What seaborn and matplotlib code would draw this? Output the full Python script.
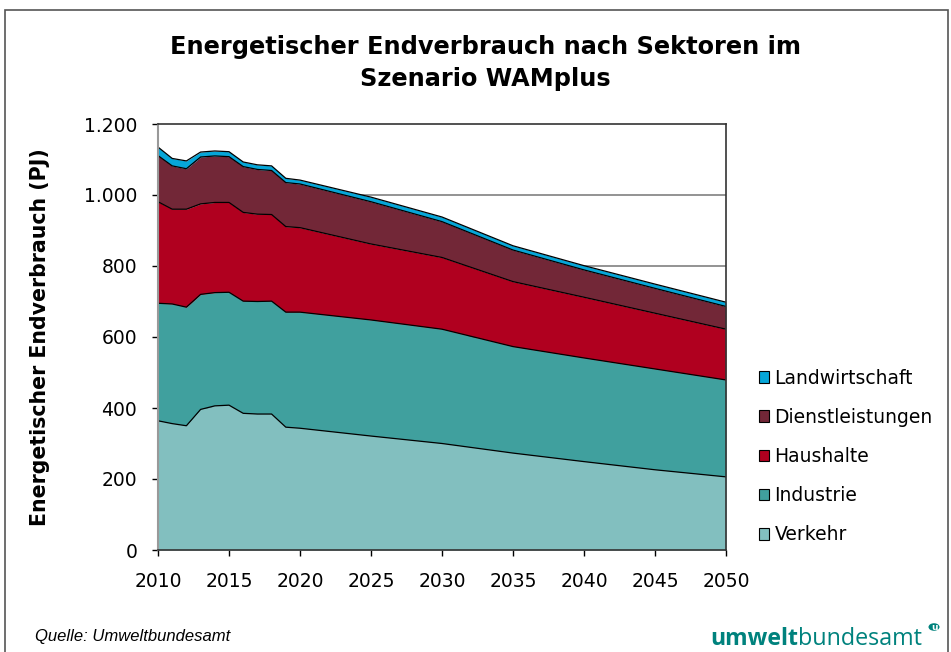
import numpy as np
import pandas as pd
import seaborn as sns
import matplotlib.pyplot as plt
from matplotlib.patches import Patch, Rectangle, Circle

# Werte (PJ)
jahre = [2010, 2011, 2012, 2013, 2014, 2015, 2016, 2017, 2018, 2019, 2020,
         2025, 2030, 2035, 2040, 2045, 2050]
verkehr = [364, 356, 350, 396, 406, 408, 385, 383, 383, 346, 343,
           321, 300, 273, 249, 226, 206]
industrie = [331, 337, 334, 324, 319, 318, 316, 317, 318, 324, 327,
             327, 322, 300, 292, 284, 273]
haushalte = [286, 267, 276, 255, 254, 253, 250, 246, 244, 241, 238,
             214, 202, 183, 171, 157, 143]
dienstleistungen = [130, 122, 114, 132, 131, 129, 129, 126, 124, 124, 123,
                    119, 101, 89, 77, 70, 64]
landwirtschaft = [24, 21, 22, 14, 14, 14, 13, 13, 13, 12, 11,
                  13, 13, 12, 12, 12, 12]

sektoren = ["Verkehr", "Industrie", "Haushalte", "Dienstleistungen", "Landwirtschaft"]
farben = ["#82bfbf", "#40a09e", "#b0001f", "#722737", "#06a6d8"]
y_labels = ["0", "200", "400", "600", "800", "1.000", "1.200"]

df = pd.DataFrame({"Jahr": jahre, "Verkehr": verkehr, "Industrie": industrie,
                   "Haushalte": haushalte, "Dienstleistungen": dienstleistungen,
                   "Landwirtschaft": landwirtschaft})
kum = df[sektoren].cumsum(axis=1)
kum["Jahr"] = df["Jahr"]
kum_long = kum.melt(id_vars="Jahr", var_name="Sektor", value_name="Summe")

sns.set_theme(style="white")
plt.rcParams["font.family"] = ["DejaVu Sans"]
for k in ["text.color", "axes.labelcolor", "xtick.color", "ytick.color"]:
    plt.rcParams[k] = "black"

fig = plt.figure(figsize=(9.51, 6.52), dpi=100)
ax = fig.add_axes([158 / 951, 1 - 550 / 652, (726 - 158) / 951, (550 - 124) / 652])

# Gitterlinien hinter den Flächen
for yv in range(200, 1200, 200):
    ax.axhline(yv, color="#808080", lw=1.2, zorder=0)

ax.stackplot(df["Jahr"], [df[s] for s in sektoren], colors=farben, lw=0, zorder=1)
sns.lineplot(data=kum_long, x="Jahr", y="Summe", units="Sektor", estimator=None,
             color="black", lw=0.9, legend=False, ax=ax, zorder=2)

ax.set_xlim(2010, 2050)
ax.set_ylim(0, 1200)
ax.set_xticks(range(2010, 2051, 5))
ax.set_yticks(range(0, 1201, 200))
ax.set_yticklabels(y_labels)
ax.tick_params(axis="both", labelsize=13.5, length=4, width=1, color="black",
               direction="out", bottom=True, left=True, pad=11)
ax.tick_params(axis="x", pad=12)
ax.set_xlabel("")
ax.set_ylabel("Energetischer Endverbrauch (PJ)", fontsize=14.8, fontweight="bold",
              labelpad=24)

for side in ["top", "right", "bottom"]:
    ax.spines[side].set_color("#333333")
    ax.spines[side].set_linewidth(1.2)
ax.spines["left"].set_color("#999999")
ax.spines["left"].set_linewidth(1.5)

fig.text(485 / 951, 1 - 63 / 652, "Energetischer Endverbrauch nach Sektoren im\nSzenario WAMplus",
         fontsize=17.3, fontweight="bold", ha="center", va="center", linespacing=1.4)

handles = [Patch(facecolor=c, edgecolor="black", lw=0.8, label=s)
           for s, c in zip(sektoren, farben)][::-1]
fig.legend(handles=handles, loc="upper left", bbox_to_anchor=(751 / 951, 1 - 361 / 652),
           frameon=False, fontsize=13.5, handlelength=0.55, handleheight=0.55,
           handletextpad=0.3, labelspacing=1.08, borderaxespad=0)

fig.text(35 / 951, 1 - 636 / 652, "Quelle: Umweltbundesamt", fontsize=12,
         style="italic", va="center", ha="left", family=["Liberation Sans"])

# Logo
t_um = fig.text(710 / 951, 1 - 645 / 652, "umwelt", fontsize=16.6, fontweight="bold",
                color="#00827d", va="baseline", ha="left", family=["Open Sans"])
fig.canvas.draw()
bb = t_um.get_window_extent()
fig.text(bb.x1 / 951, 1 - 645 / 652, "bundesamt", fontsize=16.8, color="#00827d",
         va="baseline", ha="left", family=["Open Sans"])
fig.patches.append(Circle((934 / 951, 1 - 627 / 652), 5.5 / 951, transform=fig.transFigure,
                          facecolor="#00827d", edgecolor="none"))
fig.text(934 / 951, 1 - 628 / 652, "u", fontsize=6.5, fontweight="bold", color="white",
         ha="center", va="center", family=["DejaVu Sans"])

# äußerer Rahmen
fig.patches.append(Rectangle((5 / 951, -0.05), 943 / 951, 1.05 - 10 / 652,
                             transform=fig.transFigure, fill=False,
                             edgecolor="#555555", lw=1.2))

fig.savefig("out.png", dpi=100)
